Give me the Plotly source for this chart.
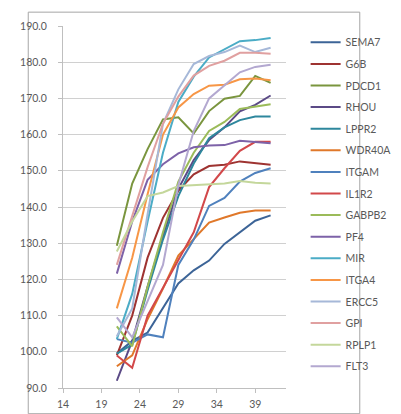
import plotly.graph_objects as go

x_vals = [21, 23, 25, 27, 29, 31, 33, 35, 37, 39, 41]

names = ["SEMA7", "G6B", "PDCD1", "RHOU", "LPPR2", "WDR40A", "ITGAM", "IL1R2",
         "GABPB2", "PF4", "MIR", "ITGA4", "ERCC5", "GPI", "RPLP1", "FLT3"]

SEMA7 = [99.5, 103.0, 105.3, 112.0, 118.9, 122.5, 125.2, 129.8, 133.0, 136.2, 137.7]
G6B = [99.0, 110.0, 126.0, 137.0, 144.5, 149.0, 151.3, 151.7, 152.6, 152.1, 151.7]
PDCD1 = [129.3, 146.5, 156.0, 164.2, 164.8, 160.3, 166.5, 169.9, 170.7, 176.2, 174.3]
RHOU = [92.0, 103.0, 118.0, 132.0, 145.0, 153.0, 158.5, 162.0, 166.4, 168.2, 170.8]
LPPR2 = [99.5, 102.0, 117.0, 131.0, 143.0, 152.0, 159.0, 162.0, 164.0, 165.0, 165.0]
WDR40A = [96.0, 99.0, 109.0, 117.5, 126.6, 131.2, 135.7, 137.1, 138.4, 139.0, 139.0]
ITGAM = [103.5, 102.5, 104.8, 104.0, 124.0, 131.0, 140.3, 142.5, 147.0, 149.4, 150.7]
IL1R2 = [99.0, 95.6, 110.0, 117.7, 125.3, 133.0, 145.5, 150.7, 155.5, 158.0, 158.0]
GABPB2 = [107.0, 101.5, 118.0, 133.0, 147.0, 155.0, 161.0, 163.5, 167.1, 167.7, 168.4]
PF4 = [121.6, 136.0, 147.5, 151.8, 154.8, 156.5, 157.0, 157.1, 158.3, 158.0, 157.6]
MIR = [103.5, 116.0, 136.0, 155.0, 169.0, 176.0, 181.3, 183.5, 185.8, 186.1, 186.7]
ITGA4 = [112.0, 126.0, 143.5, 160.0, 167.5, 171.2, 173.5, 173.8, 175.3, 175.5, 175.0]
ERCC5 = [104.3, 112.0, 138.0, 163.0, 172.5, 179.5, 181.7, 182.8, 184.6, 182.8, 184.0]
GPI = [124.0, 137.5, 151.0, 163.0, 170.5, 176.3, 179.0, 180.4, 182.6, 182.6, 182.3]
RPLP1 = [127.7, 136.0, 143.0, 144.0, 145.8, 146.1, 146.2, 146.5, 147.2, 146.7, 146.5]
FLT3 = [109.5, 104.0, 114.0, 124.0, 146.0, 161.0, 170.0, 173.5, 177.2, 178.7, 179.3]

series = [SEMA7, G6B, PDCD1, RHOU, LPPR2, WDR40A, ITGAM, IL1R2,
          GABPB2, PF4, MIR, ITGA4, ERCC5, GPI, RPLP1, FLT3]

colors = ["#3c6497", "#9e3331", "#7a953e", "#5b4a86", "#2e879d", "#e0782a",
          "#4f81bd", "#d2484a", "#9bbb59", "#7d62a8", "#4bacc6", "#f79646",
          "#a6b8d8", "#e0a0a0", "#c4d79b", "#b3a8d0"]

x_ticks = [14, 19, 24, 29, 34, 39]
y_ticks = [90, 100, 110, 120, 130, 140, 150, 160, 170, 180, 190]

fig = go.Figure()
for i, (nm, ys) in enumerate(zip(names, series)):
    fig.add_trace(go.Scatter(
        x=x_vals, y=ys, name=nm, mode="lines",
        line=dict(color=colors[i], width=2),
        legendgroup=nm,
    ))

fig.update_layout(
    width=401, height=414,
    margin=dict(l=49, r=89, t=18, b=30),
    paper_bgcolor="white", plot_bgcolor="white",
    font=dict(family="Lato, 'Open Sans', sans-serif", size=10.5, color="#595959"),
    showlegend=True,
    legend=dict(
        x=1.088, y=0.995, xanchor="left", yanchor="top",
        font=dict(size=10.5, color="#595959"),
        tracegroupgap=2.6, itemwidth=30,
        bgcolor="rgba(0,0,0,0)",
    ),
    xaxis=dict(
        range=[14, 43], tickvals=x_ticks, ticktext=[str(v) for v in x_ticks],
        showgrid=False, zeroline=False,
        showline=True, linecolor="#bfbfbf", linewidth=1,
        ticks="outside", ticklen=4, tickcolor="#bfbfbf",
        ticklabelstandoff=2,
        tickfont=dict(size=10.5, color="#595959"),
    ),
    yaxis=dict(
        range=[90, 190], tickvals=y_ticks, tickformat=".1f",
        showgrid=True, gridcolor="#d0d0d0", gridwidth=1, zeroline=False,
        showline=True, linecolor="#bfbfbf", linewidth=1,
        ticks="outside", ticklen=4, tickcolor="#bfbfbf",
        ticklabelstandoff=9,
        tickfont=dict(size=10.5, color="#595959"),
    ),
    shapes=[dict(
        type="rect", xref="paper", yref="paper",
        x0=(8 - 49) / 263, x1=(399 - 49) / 263,
        y0=(384 - 410) / 366, y1=(384 - 4) / 366,
        line=dict(color="#a6a6a6", width=1), fillcolor="rgba(0,0,0,0)",
        layer="below",
    )],
)

fig.write_html("out.html")
